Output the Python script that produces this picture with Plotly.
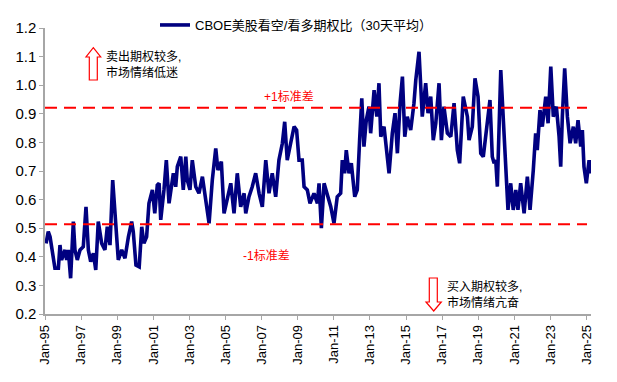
import datetime as dt
import plotly.graph_objects as go

# ---- data ----
series_name = "CBOE美股看空/看多期权比（30天平均）"

years = [
    1995.06, 1995.18, 1995.28, 1995.46, 1995.55, 1995.74, 1995.83, 1995.92,
    1996.11, 1996.20, 1996.29, 1996.42, 1996.57, 1996.66, 1996.79, 1996.94,
    1997.12, 1997.27, 1997.40, 1997.53, 1997.68, 1997.81, 1997.95,
    1998.14, 1998.32, 1998.45, 1998.60, 1998.75, 1998.88, 1998.97,
    1999.06, 1999.25, 1999.43, 1999.62, 1999.80, 1999.89,
    2000.04, 2000.22, 2000.36, 2000.48, 2000.63, 2000.76, 2000.95,
    2001.08, 2001.22, 2001.32, 2001.41, 2001.59, 2001.72, 2001.87,
    2002.00, 2002.11, 2002.24, 2002.33, 2002.52, 2002.66, 2002.80, 2002.88,
    2003.03, 2003.16, 2003.35, 2003.53, 2003.72, 2003.90,
    2004.09, 2004.27, 2004.46, 2004.58, 2004.77, 2004.92,
    2005.10, 2005.29, 2005.47, 2005.65, 2005.84,
    2006.03, 2006.12, 2006.30, 2006.48, 2006.67, 2006.86,
    2007.04, 2007.23, 2007.41, 2007.59, 2007.78, 2007.96,
    2008.15, 2008.28, 2008.42, 2008.61, 2008.80, 2008.94,
    2009.07, 2009.25, 2009.35, 2009.53, 2009.68, 2009.90,
    2010.09, 2010.18, 2010.31, 2010.46, 2010.64, 2010.83,
    2011.01, 2011.19, 2011.38, 2011.47, 2011.60, 2011.69, 2011.84, 2011.97,
    2012.16, 2012.30, 2012.43, 2012.55, 2012.67, 2012.80, 2012.95,
    2013.04, 2013.23, 2013.38, 2013.50, 2013.60, 2013.78, 2013.93,
    2014.06, 2014.24, 2014.39, 2014.52, 2014.67, 2014.80, 2014.93,
    2015.07, 2015.26, 2015.44, 2015.54, 2015.72, 2015.81, 2015.90,
    2016.09, 2016.22, 2016.37, 2016.51, 2016.65, 2016.83, 2016.96,
    2017.10, 2017.29, 2017.48, 2017.66, 2017.84, 2017.97,
    2018.17, 2018.40, 2018.49, 2018.67, 2018.82, 2018.99,
    2019.14, 2019.28, 2019.42, 2019.65, 2019.78, 2019.88, 2019.97,
    2020.06, 2020.25, 2020.37, 2020.52, 2020.65, 2020.80, 2020.94,
    2021.08, 2021.20, 2021.35, 2021.54, 2021.72, 2021.87,
    2022.05, 2022.18, 2022.27, 2022.42, 2022.55, 2022.74, 2022.87,
    2023.02, 2023.16, 2023.33, 2023.48, 2023.57, 2023.66, 2023.79, 2023.94,
    2024.09, 2024.27, 2024.40, 2024.53, 2024.68, 2024.77, 2024.86, 2024.99,
    2025.14, 2025.23, 2025.29,
]

ratio = [
    0.447, 0.488, 0.470, 0.400, 0.360, 0.360, 0.441, 0.389,
    0.424, 0.389, 0.424, 0.325, 0.523, 0.424, 0.389, 0.424,
    0.435, 0.575, 0.424, 0.383, 0.412, 0.354, 0.523,
    0.447, 0.424, 0.505, 0.441, 0.668, 0.529, 0.447,
    0.389, 0.424, 0.395, 0.470, 0.523, 0.488,
    0.371, 0.365, 0.505, 0.447, 0.470, 0.587, 0.634,
    0.552, 0.651, 0.657, 0.529, 0.634, 0.738, 0.587,
    0.634, 0.692, 0.645, 0.715, 0.750, 0.634, 0.750, 0.669,
    0.634, 0.738, 0.645, 0.622, 0.680, 0.599,
    0.517, 0.669, 0.779, 0.703, 0.733, 0.552,
    0.610, 0.657, 0.552, 0.692, 0.575,
    0.622, 0.552, 0.610, 0.645, 0.692, 0.622,
    0.575, 0.738, 0.622, 0.692, 0.610, 0.738,
    0.797, 0.872, 0.738, 0.797, 0.855, 0.843,
    0.738, 0.738, 0.645, 0.634, 0.587, 0.622,
    0.587, 0.657, 0.500, 0.657, 0.622, 0.575,
    0.517, 0.610, 0.622, 0.738, 0.692, 0.773, 0.692, 0.727,
    0.610, 0.634, 0.808, 0.954, 0.785, 0.878, 0.925,
    0.832, 0.983, 0.890, 1.007, 0.820, 0.855, 0.750,
    0.692, 0.832, 0.902, 0.762, 0.937, 1.030, 0.820,
    0.890, 0.843, 0.937, 1.018, 1.117, 0.983, 0.890,
    1.007, 0.902, 0.960, 0.808, 0.867, 1.007, 0.808,
    0.925, 0.832, 0.820, 0.937, 0.773, 0.727,
    0.960, 0.890, 0.808, 0.855, 1.024, 0.960,
    0.762, 0.750, 0.832, 0.948, 0.750, 0.727, 0.738,
    0.645, 1.053, 0.890, 0.680, 0.564, 0.657, 0.564,
    0.634, 0.564, 0.657, 0.552, 0.680, 0.564,
    0.703, 0.832, 0.773, 0.913, 0.855, 0.960, 0.867,
    1.065, 0.890, 0.925, 0.820, 0.715, 0.890, 1.059, 0.890,
    0.797, 0.855, 0.797, 0.878, 0.785, 0.843, 0.715, 0.657,
    0.738, 0.692, 0.738,
]

upper_band = 0.921   # +1 standard deviation
lower_band = 0.514   # -1 standard deviation
upper_label = "+1标准差"
lower_label = "-1标准差"
note_top = "卖出期权较多,<br>市场情绪低迷"
note_bottom = "买入期权较多,<br>市场情绪亢奋"

y_ticks = [0.2, 0.3, 0.4, 0.5, 0.6, 0.7, 0.8, 0.9, 1.0, 1.1, 1.2]
y_tick_text = ["0.2", "0.3", "0.4", "0.5", "0.6", "0.7", "0.8", "0.9", "1.0", "1.1", "1.2"]


def to_date(y):
    base = dt.datetime(int(y), 1, 1)
    return base + dt.timedelta(days=(y - int(y)) * 365.25)


dates = [to_date(y) for y in years]

# ---- layout geometry (screen px; the page body adds an 8px offset) ----
OFF = 8
W, H = 617 - 2 * OFF, 382 - 2 * OFF
PLOT_L, PLOT_R, PLOT_T, PLOT_B = 45, 591, 28, 314   # screen coordinates
ML = PLOT_L - OFF
MT = PLOT_T - OFF
MR = W - (PLOT_R - OFF)
MB = H - (PLOT_B - OFF)
PW = PLOT_R - PLOT_L
PH = PLOT_B - PLOT_T


def px(x):
    return (x - PLOT_L) / PW


def py(y):
    return (PLOT_B - y) / PH


FONT = "Liberation Sans, Arimo, Noto Sans CJK SC, sans-serif"
NAVY = "#000080"
RED = "#ff0000"
GREY = "#a6a6a6"

fig = go.Figure()
fig.add_trace(go.Scatter(
    x=dates, y=ratio, mode="lines", name=series_name,
    line=dict(color=NAVY, width=3.6),
))

# band lines
for v in (upper_band, lower_band):
    fig.add_shape(type="line", xref="paper", yref="y", x0=0, x1=px(587),
                  y0=v, y1=v, line=dict(color=RED, width=2, dash="12px,7px"))


# hollow arrows
def path(points):
    return "M " + " L ".join(f"{px(a):.5f},{py(b):.5f}" for a, b in points) + " Z"


up_arrow = [(93.3, 47.7), (100.7, 57), (97.3, 57), (97.3, 80), (89.3, 80), (89.3, 57), (86, 57)]
down_arrow = [(433.7, 311), (441.3, 302), (437.3, 302), (437.3, 278), (429.3, 278), (429.3, 302), (426, 302)]
for pts in (up_arrow, down_arrow):
    fig.add_shape(type="path", xref="paper", yref="paper", path=path(pts),
                  line=dict(color=RED, width=1.2), fillcolor="white")

fig.add_annotation(xref="paper", yref="paper", x=px(289), y=py(97),
                   xanchor="center", yanchor="middle",
                   text=upper_label, showarrow=False,
                   font=dict(family=FONT, size=12, color=RED))
fig.add_annotation(xref="paper", yref="paper", x=px(266), y=py(256),
                   xanchor="center", yanchor="middle",
                   text=lower_label, showarrow=False,
                   font=dict(family=FONT, size=12, color=RED))
fig.add_annotation(xref="paper", yref="paper", x=px(104), y=py(64.5),
                   xanchor="left", yanchor="middle", align="left",
                   text=note_top, showarrow=False,
                   font=dict(family=FONT, size=12, color="black"))
fig.add_annotation(xref="paper", yref="paper", x=px(445), y=py(294),
                   xanchor="left", yanchor="middle", align="left",
                   text=note_bottom, showarrow=False,
                   font=dict(family=FONT, size=12, color="black"))

fig.update_layout(
    width=W, height=H,
    margin=dict(l=ML, r=MR, t=MT, b=MB, autoexpand=False),
    paper_bgcolor="white", plot_bgcolor="white",
    font=dict(family=FONT, color="black"),
    showlegend=True,
    legend=dict(xref="container", yref="container",
                x=(155 - OFF) / W, y=1 - (25 - OFF) / H,
                xanchor="left", yanchor="middle",
                orientation="h", bgcolor="rgba(0,0,0,0)",
                font=dict(family=FONT, size=13, color="black")),
    xaxis=dict(
        type="date", automargin=False,
        range=[dt.datetime(1995, 1, 1), dt.datetime(2025, 4, 1)],
        tick0="1995-01-01", dtick="M24", tickformat="%b-%y",
        tickangle=-90, ticks="outside", ticklen=4, tickcolor=GREY,
        showline=True, linecolor=GREY, linewidth=1.5,
        showgrid=False, zeroline=False,
        tickfont=dict(family=FONT, size=13, color="black"),
    ),
    yaxis=dict(
        range=[0.2, 1.2], tickvals=y_ticks, ticktext=y_tick_text,
        automargin=False,
        ticks="outside", ticklen=4, tickcolor=GREY,
        showline=True, linecolor=GREY, linewidth=1.5,
        showgrid=False, zeroline=False,
        tickfont=dict(family=FONT, size=15, color="black"),
    ),
)

fig.write_html("out.html")
